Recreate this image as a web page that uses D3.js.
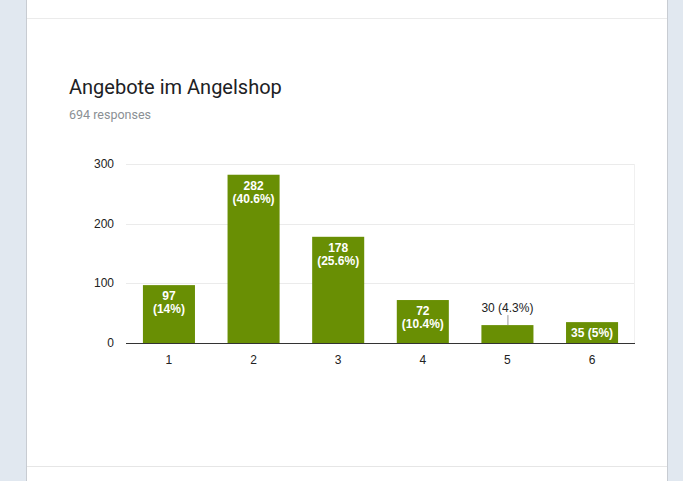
<!DOCTYPE html>
<html>
<head>
<meta charset="utf-8">
<script src="https://cdn.jsdelivr.net/npm/d3@7"></script>
<style>
  body { margin: 0; background: #e1e8f0; overflow: hidden; }
  svg { display: block; }
</style>
</head>
<body>
<script>
// chart data
var categories = ["1", "2", "3", "4", "5", "6"];
var counts = [97, 282, 178, 72, 30, 35];
var percents = ["14%", "40.6%", "25.6%", "10.4%", "4.3%", "5%"];
var yTicks = [0, 100, 200, 300];
var title = "Angebote im Angelshop";
var subtitle = "694 responses";

var w = 683, h = 481;
var margin = {top: 164, right: 48, bottom: 138, left: 126};
var innerWidth = w - margin.left - margin.right;
var innerHeight = h - margin.top - margin.bottom;
var font = "'Liberation Sans', Arial, sans-serif";

var svg = d3.select("body").append("svg")
    .attr("width", w)
    .attr("height", h);

// card
svg.append("rect")
    .attr("x", 27).attr("y", 0)
    .attr("width", 640).attr("height", h)
    .attr("fill", "#fff");
[26.5, 667.5].forEach(function (xx) {
  svg.append("line")
      .attr("x1", xx).attr("x2", xx)
      .attr("y1", 0).attr("y2", h)
      .attr("stroke", "#c8ccd2");
});
svg.append("line")
    .attr("x1", 27).attr("x2", 667)
    .attr("y1", 18.5).attr("y2", 18.5)
    .attr("stroke", "#ebebeb");
svg.append("line")
    .attr("x1", 27).attr("x2", 667)
    .attr("y1", 466.5).attr("y2", 466.5)
    .attr("stroke", "#e6e6e6");

svg.append("text")
    .attr("x", 69).attr("y", 94)
    .attr("font-family", "Roboto")
    .attr("font-size", 20)
    .attr("fill", "#202124")
    .text(title);
svg.append("text")
    .attr("x", 69).attr("y", 119)
    .attr("font-family", "Roboto")
    .attr("font-size", 12.5)
    .attr("fill", "#8a8f94")
    .text(subtitle);

var x = d3.scaleBand()
    .domain(categories)
    .range([0, innerWidth])
    .paddingInner(0.385)
    .paddingOuter(0.2);

var y = d3.scaleLinear()
    .domain([0, 300])
    .range([innerHeight, 0]);

var g = svg.append("g")
    .attr("transform", `translate(${margin.left}, ${margin.top})`);

// gridlines
g.selectAll(".grid")
  .data(yTicks.slice(1))
  .enter().append("line")
    .attr("x1", 0).attr("x2", innerWidth)
    .attr("y1", d => Math.round(y(d)) + 0.5)
    .attr("y2", d => Math.round(y(d)) + 0.5)
    .attr("stroke", "#ebebeb");
g.append("line")
    .attr("x1", innerWidth - 0.5).attr("x2", innerWidth - 0.5)
    .attr("y1", 0).attr("y2", innerHeight)
    .attr("stroke", "#f0f0f0");

// y labels
g.selectAll(".ylab")
  .data(yTicks)
  .enter().append("text")
    .attr("x", -12)
    .attr("y", d => y(d) + 4)
    .attr("text-anchor", "end")
    .attr("font-family", font)
    .attr("font-size", 12)
    .attr("fill", "#222")
    .text(d => d);

var data = categories.map((c, i) => ({cat: c, n: counts[i], p: percents[i]}));

g.selectAll(".bar")
  .data(data)
  .enter().append("rect")
    .attr("x", d => x(d.cat))
    .attr("y", d => y(d.n))
    .attr("width", x.bandwidth())
    .attr("height", d => innerHeight - y(d.n))
    .attr("fill", "#698f04");

// baseline
g.append("line")
    .attr("x1", 0).attr("x2", innerWidth)
    .attr("y1", innerHeight + 0.5).attr("y2", innerHeight + 0.5)
    .attr("stroke", "#333");

// x labels
g.selectAll(".xlab")
  .data(categories)
  .enter().append("text")
    .attr("x", d => x(d) + x.bandwidth() / 2)
    .attr("y", innerHeight + 21)
    .attr("text-anchor", "middle")
    .attr("font-family", font)
    .attr("font-size", 12)
    .attr("fill", "#222")
    .text(d => d);

// value labels: two lines inside tall bars, one line inside mid bars, above short ones
var labels = g.selectAll(".vlab")
  .data(data)
  .enter().append("g");

labels.each(function (d) {
  var sel = d3.select(this);
  var cx = x(d.cat) + x.bandwidth() / 2;
  var barH = innerHeight - y(d.n);
  if (barH > 36) {
    sel.append("text")
      .attr("x", cx).attr("y", y(d.n) + 15)
      .text(d.n);
    sel.append("text")
      .attr("x", cx).attr("y", y(d.n) + 28)
      .text("(" + d.p + ")");
    sel.selectAll("text").attr("fill", "#fff").attr("font-weight", "bold");
  } else if (barH > 20) {
    sel.append("text")
      .attr("x", cx).attr("y", y(d.n) + 15)
      .attr("fill", "#fff").attr("font-weight", "bold")
      .text(d.n + " (" + d.p + ")");
  } else {
    sel.append("text")
      .attr("x", cx).attr("y", y(d.n) - 13)
      .attr("fill", "#222")
      .text(d.n + " (" + d.p + ")");
    sel.append("line")
      .attr("x1", cx + 0.5).attr("x2", cx + 0.5)
      .attr("y1", y(d.n) - 10).attr("y2", y(d.n))
      .attr("stroke", "#999");
  }
  sel.selectAll("text")
    .attr("text-anchor", "middle")
    .attr("font-family", font)
    .attr("font-size", 12);
});
</script>
</body>
</html>
